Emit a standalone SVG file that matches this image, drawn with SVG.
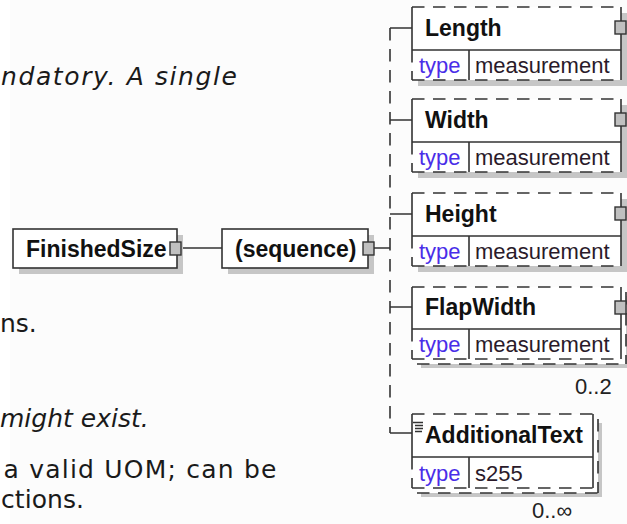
<svg xmlns="http://www.w3.org/2000/svg" width="627" height="524" viewBox="0 0 627 524">
<defs>
<style>
.doc{font-family:"DejaVu Sans",Verdana,sans-serif;font-size:25px;fill:#1a1a1a}
.it{font-style:italic}
.nm{font-family:"Liberation Sans",Arial,sans-serif;font-weight:bold;font-size:23px;fill:#111}
.ty{font-family:"Liberation Sans",Arial,sans-serif;font-size:22px;fill:#4a2ee8}
.val{font-family:"Liberation Sans",Arial,sans-serif;font-size:22px;fill:#2a1a2a}
.occ{font-family:"Liberation Sans",Arial,sans-serif;font-size:22px;fill:#222}
.box{fill:#fff;stroke:#333;stroke-width:1.6}
.wb{fill:#fff}
.shadow{fill:#c6c6c6}
.ln{stroke:#333;stroke-width:1.6;fill:none}
.dash{stroke-dasharray:12.5 8.5}
.port{fill:#c0c0c0;stroke:#333;stroke-width:1.4}
</style>
</defs>
<rect x="0" y="0" width="627" height="524" fill="#ffffff"/>
<rect x="10" y="0" width="617" height="524" fill="#fcfcfc"/>

<g id="doc-text">
<text class="doc it" x="1" y="85" textLength="236">ndatory. A single</text>
<text class="doc" x="0" y="332" font-size="23">ns.</text>
<text class="doc it" x="0" y="427" font-size="24">might exist.</text>
<text class="doc" x="3.5" y="478" textLength="273">a valid UOM; can be</text>
<text class="doc" x="1" y="508" textLength="83">ctions.</text>
</g>

<g id="connectors">
<path class="ln" d="M181,248 H222 M374,248 H390"/>
<path class="ln dash" d="M390,28 V433"/>
<path class="ln" d="M390,28 H412 M390,120 H412 M390,214 H412 M390,307 H412 M390,433 H412"/>
</g>

<g id="finishedsize">
<rect class="shadow" x="19" y="235" width="164" height="39"/>
<rect class="box" x="13" y="229" width="164" height="39"/>
<rect class="port" x="170" y="242" width="11" height="13"/>
<text class="nm" x="26" y="257">FinishedSize</text>
</g>

<g id="sequence">
<rect class="shadow" x="228" y="235" width="146" height="39"/>
<rect class="box" x="222" y="229" width="146" height="39"/>
<rect class="port" x="363" y="242" width="11" height="13"/>
<text class="nm" x="235" y="257">(sequence)</text>
</g>

<g id="length" transform="translate(412,7)">
<rect class="shadow" x="6" y="6" width="209" height="73"/>
<rect class="wb" x="0" y="0" width="209" height="73"/>
<path class="ln dash" d="M0,0 H209 M0,73 H209 M0,43 V73"/>
<path class="ln" d="M0,0 V43 M209,0 V73 M0,43 H209 M57,43 V73"/>
<rect class="port" x="203" y="14" width="11" height="13"/>
<text class="nm" x="13" y="29">Length</text>
<text class="ty" x="7" y="66">type</text>
<text class="val" x="63" y="66">measurement</text>
</g>

<g id="width" transform="translate(412,99)">
<rect class="shadow" x="6" y="6" width="209" height="73"/>
<rect class="wb" x="0" y="0" width="209" height="73"/>
<path class="ln dash" d="M0,0 H209 M0,73 H209 M0,43 V73"/>
<path class="ln" d="M0,0 V43 M209,0 V73 M0,43 H209 M57,43 V73"/>
<rect class="port" x="203" y="14" width="11" height="13"/>
<text class="nm" x="13" y="29">Width</text>
<text class="ty" x="7" y="66">type</text>
<text class="val" x="63" y="66">measurement</text>
</g>

<g id="height" transform="translate(412,193)">
<rect class="shadow" x="6" y="6" width="209" height="73"/>
<rect class="wb" x="0" y="0" width="209" height="73"/>
<path class="ln dash" d="M0,0 H209 M0,73 H209 M0,43 V73"/>
<path class="ln" d="M0,0 V43 M209,0 V73 M0,43 H209 M57,43 V73"/>
<rect class="port" x="203" y="14" width="11" height="13"/>
<text class="nm" x="13" y="29">Height</text>
<text class="ty" x="7" y="66">type</text>
<text class="val" x="63" y="66">measurement</text>
</g>

<g id="flapwidth" transform="translate(412,287)">
<rect class="shadow" x="9" y="9" width="209" height="72"/>
<rect class="wb" x="5" y="5" width="209" height="72"/>
<path class="ln dash" d="M5,77 H214 M214,5 V77"/>
<rect class="wb" x="0" y="0" width="209" height="72"/>
<path class="ln dash" d="M0,0 H209 M0,72 H209 M0,42 V72"/>
<path class="ln" d="M0,0 V42 M209,0 V72 M0,42 H209 M57,42 V72"/>
<rect class="port" x="203" y="14" width="11" height="13"/>
<text class="nm" x="13" y="28">FlapWidth</text>
<text class="ty" x="7" y="65">type</text>
<text class="val" x="63" y="65">measurement</text>
<text class="occ" x="163" y="107">0..2</text>
</g>

<g id="additionaltext" transform="translate(412,414)">
<rect class="shadow" x="9" y="9" width="181" height="74"/>
<rect class="wb" x="5" y="5" width="181" height="74"/>
<path class="ln dash" d="M5,79 H186 M186,5 V79"/>
<rect class="wb" x="0" y="0" width="181" height="74"/>
<path class="ln dash" d="M0,0 H181 M0,74 H181 M0,43 V74"/>
<path class="ln" d="M0,0 V43 M181,0 V74 M0,43 H181 M57,43 V74"/>
<path class="ln" stroke-width="1.2" d="M1,8.5 H11 M3,11.5 H11 M3,14.5 H11 M3,17.5 H10"/>
<text class="nm" x="13" y="29">AdditionalText</text>
<text class="ty" x="7" y="67">type</text>
<text class="val" x="63" y="67">s255</text>
<text class="occ" x="120" y="104">0..∞</text>
</g>
</svg>
